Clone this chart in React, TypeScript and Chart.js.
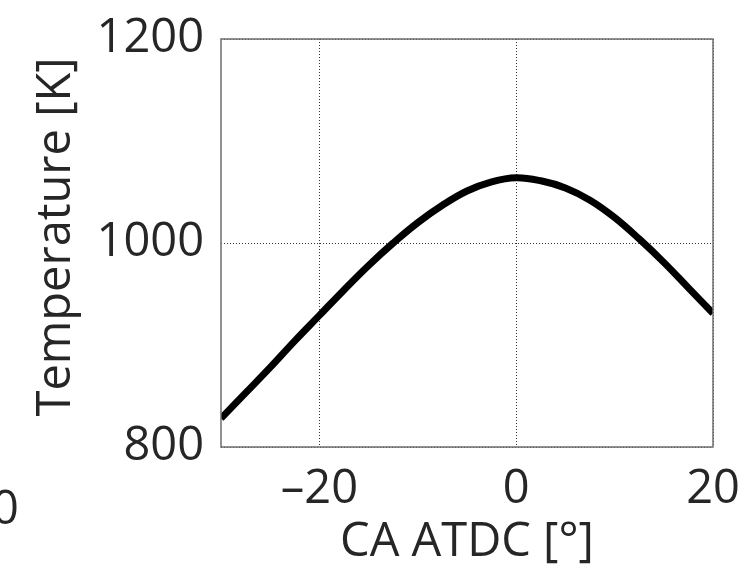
import React, { useEffect, useRef } from "react";
import { Chart, registerables } from "chart.js";

Chart.register(...registerables);

const crankAngles = [-30, -27.5, -25, -22.5, -20, -17.5, -15, -12.5, -10, -7.5, -5, -2.5, 0, 2.5, 5, 7.5, 10, 12.5, 15, 17.5, 20];
const temperatures = [828, 853, 878, 904, 929, 954, 978, 1000, 1020, 1037, 1051, 1060, 1064, 1061, 1054, 1042, 1025, 1004, 981, 956, 931];
const xTicks = [-20, 0, 20];
const yTicks = [800, 1000, 1200];
const xTitle = "CA ATDC [°]";
const yTitle = " Temperature [K]";

const FONT = "'Open Sans', sans-serif";
const FS = 47;
const TEXT = "#262626";

const boxPlugin = {
  id: "box",
  afterDraw(chart: any) {
    const { ctx, chartArea } = chart;
    ctx.save();
    ctx.strokeStyle = "#6e6e6e";
    ctx.lineWidth = 1.5;
    ctx.setLineDash([]);
    ctx.strokeRect(chartArea.left, chartArea.top, chartArea.right - chartArea.left, chartArea.bottom - chartArea.top);
    ctx.restore();
  },
};

export default function App() {
  const ref = useRef<HTMLCanvasElement>(null);
  useEffect(() => {
    const chart = new Chart(ref.current!, {
      type: "line",
      data: {
        datasets: [
          {
            data: crankAngles.map((x, i) => ({ x, y: temperatures[i] })),
            borderColor: "#000",
            borderWidth: 7,
            pointRadius: 0,
            tension: 0.4,
            borderCapStyle: "butt",
          },
        ],
      },
      options: {
        animation: false,
        responsive: false,
        events: [],
        layout: { padding: { left: 0, right: 35, top: 39, bottom: 0 } },
        plugins: { legend: { display: false }, tooltip: { enabled: false } },
        scales: {
          x: {
            type: "linear",
            min: -30,
            max: 20,
            afterBuildTicks: (s: any) => {
              s.ticks = xTicks.map((v) => ({ value: v }));
            },
            afterFit: (s: any) => {
              s.height = 124;
              s.paddingLeft = 0;
              s.paddingRight = 0;
            },
            grid: {
              color: "#333",
              lineWidth: 1,
              drawTicks: false,
            },
            border: { display: false, dash: [1, 2] },
            ticks: {
              padding: 14,
              color: TEXT,
              font: { family: FONT, size: FS },
              maxRotation: 0,
              callback: (v: any) => (Number(v) < 0 ? "–" + Math.abs(Number(v)) : String(v)),
            },
            title: {
              display: true,
              text: xTitle,
              color: TEXT,
              font: { family: FONT, size: FS },
              padding: { top: 0, bottom: 0 },
            },
          },
          y: {
            type: "linear",
            min: 800,
            max: 1200,
            afterBuildTicks: (s: any) => {
              s.ticks = yTicks.map((v) => ({ value: v }));
            },
            afterFit: (s: any) => {
              s.width = 221;
              s.paddingTop = 0;
              s.paddingBottom = 0;
            },
            grid: {
              color: "#333",
              lineWidth: 1,
              drawTicks: false,
            },
            border: { display: false, dash: [1, 2] },
            ticks: {
              padding: 17,
              color: TEXT,
              font: { family: FONT, size: FS },
              callback: (v: any) => String(v),
            },
            title: {
              display: true,
              text: yTitle,
              color: TEXT,
              font: { family: FONT, size: FS },
              padding: { top: 28, bottom: 0 },
            },
          },
        },
      },
      plugins: [boxPlugin],
    } as any);
    return () => chart.destroy();
  }, []);

  return (
    <div style={{ position: "absolute", left: 0, top: 0, width: 748, height: 571, background: "#fff" }}>
      <canvas ref={ref} width={748} height={571} style={{ width: 748, height: 571, display: "block" }} />
      <span
        style={{
          position: "absolute",
          left: -8,
          top: 478,
          fontFamily: FONT,
          fontSize: FS,
          lineHeight: "56px",
          color: TEXT,
        }}
      >
        0
      </span>
    </div>
  );
}
